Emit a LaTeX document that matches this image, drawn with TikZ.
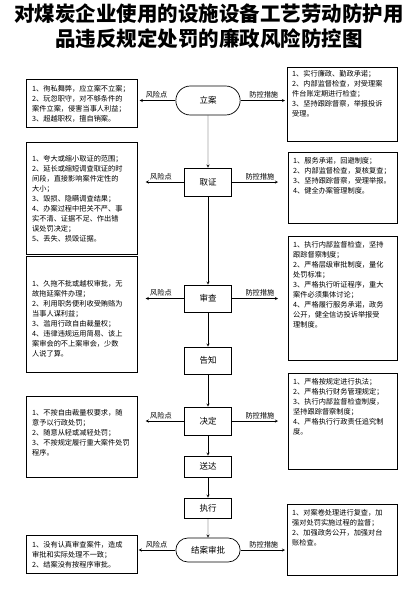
\documentclass[tikz,border=0pt]{standalone}
\usepackage{fontspec}
\setmainfont{Noto Sans CJK SC}
\usetikzlibrary{shapes.misc}

\begin{document}
\begin{tikzpicture}[x=1pt, y=-1pt, >=stealth,
    box/.style={draw, line width=0.7pt, anchor=north west, inner sep=0pt},
    txt/.style={font=\fontsize{7.2}{10}\selectfont, align=left, inner sep=0pt},
    proc/.style={draw, line width=0.7pt, minimum width=47pt, font=\fontsize{8.5}{10}\selectfont},
    ends/.style={draw, rounded rectangle, line width=0.7pt, minimum width=71pt, font=\fontsize{8.5}{10}\selectfont},
    tag/.style={font=\fontsize{7.2}{9}\selectfont, above, inner sep=2pt}]

    \useasboundingbox (0,0) rectangle (413,590);

    % 标题
    \node[font=\fontsize{20.5}{25}\selectfont\bfseries] (title1) at (209,14) {对煤炭企业使用的设施设备工艺劳动防护用};
    \node[font=\fontsize{20.5}{25}\selectfont\bfseries] (title2) at (209,39) {品违反规定处罚的廉政风险防控图};

    % 流程
    \node[ends, minimum height=29pt] (lian) at (208,100.5) {立案};
    \node[proc, minimum height=28pt] (qu) at (208,182) {取证};
    \node[proc, minimum height=27pt] (shen) at (208,298.5) {审查};
    \node[proc, minimum height=27pt] (gao) at (208,360.5) {告知};
    \node[proc, minimum height=28pt] (jue) at (208,421) {决定};
    \node[proc, minimum height=21pt] (song) at (208,466.5) {送达};
    \node[proc, minimum height=20pt] (zhi) at (208,508) {执行};
    \node[ends, minimum height=24pt] (jie) at (208,550) {结案审批};

    \draw[->] (lian) -- (qu);
    \draw[->] (qu) -- (shen);
    \draw[->] (shen) -- (gao);
    \draw[->] (gao) -- (jue);
    \draw[->] (jue) -- (song);
    \draw[->] (song) -- (zhi);
    \draw[->] (zhi) -- (jie);

    % 风险点
    \node[box, minimum width=111pt, minimum height=48pt] (lianL) at (26,79) {};
    \node[txt, anchor=west] (lianLt) at ([xshift=6pt]lianL.west) {1、徇私舞弊，应立案不立案；\\2、玩忽职守，对不够条件的\\案件立案，侵害当事人利益；\\3、超越职权，擅自销案。};

    \node[box, minimum width=111pt, minimum height=112pt] (quL) at (26,142) {};
    \node[txt, anchor=west] (quLt) at ([xshift=6pt]quL.west) {1、夸大或缩小取证的范围；\\2、延长或缩短调查取证的时\\间段，直接影响案件定性的\\大小；\\3、毁损、隐瞒调查结果；\\4、办案过程中把关不严、事\\实不清、证据不足、作出错\\误处罚决定；\\5、丢失、损毁证据。};

    \node[box, minimum width=111pt, minimum height=116pt] (shenL) at (26,256) {};
    \node[txt, anchor=west] (shenLt) at ([xshift=6pt, yshift=-4pt]shenL.west) {1、久拖不批或越权审批，无\\故拖延案件办理；\\2、利用职务便利收受贿赂为\\当事人谋利益；\\3、滥用行政自由裁量权；\\4、违律违规运用简易、该上\\案审会的不上案审会，少数\\人说了算。};

    \node[box, minimum width=111pt, minimum height=81pt] (jueL) at (26,396) {};
    \node[txt, anchor=west] (jueLt) at ([xshift=6pt, yshift=4pt]jueL.west) {1、不按自由裁量权要求，随\\意予以行政处罚；\\2、随意从轻或减轻处罚；\\3、不按规定履行重大案件处罚\\程序。};

    \node[box, minimum width=111pt, minimum height=38pt] (jieL) at (26,535) {};
    \node[txt, anchor=west] (jieLt) at ([xshift=6pt]jieL.west) {1、没有认真审查案件，造成\\审批和实际处理不一致；\\2、结案没有按程序审批。};

    % 防控措施
    \node[box, minimum width=110pt, minimum height=74pt] (lianR) at (287,67) {};
    \node[txt, anchor=north west] (lianRt) at ([xshift=5pt, yshift=-3pt]lianR.north west) {1、实行廉政、勤政承诺；\\2、内部监督检查，对受理案\\件台账定期进行检查；\\3、坚持跟踪督察，举报投诉\\受理。};

    \node[box, minimum width=109pt, minimum height=71pt] (quR) at (288,152) {};
    \node[txt, anchor=north west] (quRt) at ([xshift=5pt, yshift=-5pt]quR.north west) {1、服务承诺，回避制度；\\2、内部监督检查，复核复查；\\3、坚持跟踪督察，受理举报。\\4、健全办案管理制度。};

    \node[box, minimum width=109pt, minimum height=124pt] (shenR) at (288,236) {};
    \node[txt, anchor=north west] (shenRt) at ([xshift=5pt, yshift=-5pt]shenR.north west) {1、执行内部监督检查，坚持\\跟踪督察制度；\\2、严格层级审批制度，量化\\处罚标准；\\3、严格执行听证程序，重大\\案件必须集体讨论；\\4、严格履行服务承诺，政务\\公开，健全信访投诉举报受\\理制度。};

    \node[box, minimum width=109pt, minimum height=96pt] (jueR) at (288,373) {};
    \node[txt, anchor=north west] (jueRt) at ([xshift=5pt, yshift=-5pt]jueR.north west) {1、严格按规定进行执法；\\2、严格执行财务管理规定；\\3、执行内部监督检查制度，\\坚持跟踪督察制度；\\4、严格执行行政责任追究制\\度。};

    \node[box, minimum width=110pt, minimum height=71pt] (jieR) at (287,504) {};
    \node[txt, anchor=north west] (jieRt) at ([xshift=5pt, yshift=-5pt]jieR.north west) {1、对案卷处理进行复查，加\\强对处罚实施过程的监督；\\2、加强政务公开，加强对台\\账检查。};

    % 连线
    \draw[->, shorten >=2pt] (lian.west) -- (lian.west -| lianL.east) node[tag, midway] {风险点};
    \draw[->, shorten >=2pt] (lian.east) -- (lian.east -| lianR.west) node[tag, midway] {防控措施};
    \draw[->, shorten >=8pt] (qu.west) -- (qu.west -| quL.east) node[tag, midway] {风险点};
    \draw[->, shorten >=10pt] (qu.east) -- (qu.east -| quR.west) node[tag, midway] {防控措施};
    \draw[->, shorten >=8pt] (shen.west) -- (shen.west -| shenL.east) node[tag, midway] {风险点};
    \draw[->, shorten >=10pt] (shen.east) -- (shen.east -| shenR.west) node[tag, midway] {防控措施};
    \draw[->, shorten >=8pt] (jue.west) -- (jue.west -| jueL.east) node[tag, midway] {风险点};
    \draw[->, shorten >=10pt] (jue.east) -- (jue.east -| jueR.west) node[tag, midway] {防控措施};
    \draw[->, shorten >=1pt] (jie.west) -- (jie.west -| jieL.east) node[tag, midway] {风险点};
    \draw[->, shorten >=2pt] (jie.east) -- (jie.east -| jieR.west) node[tag, midway] {防控措施};
\end{tikzpicture}
\end{document}
